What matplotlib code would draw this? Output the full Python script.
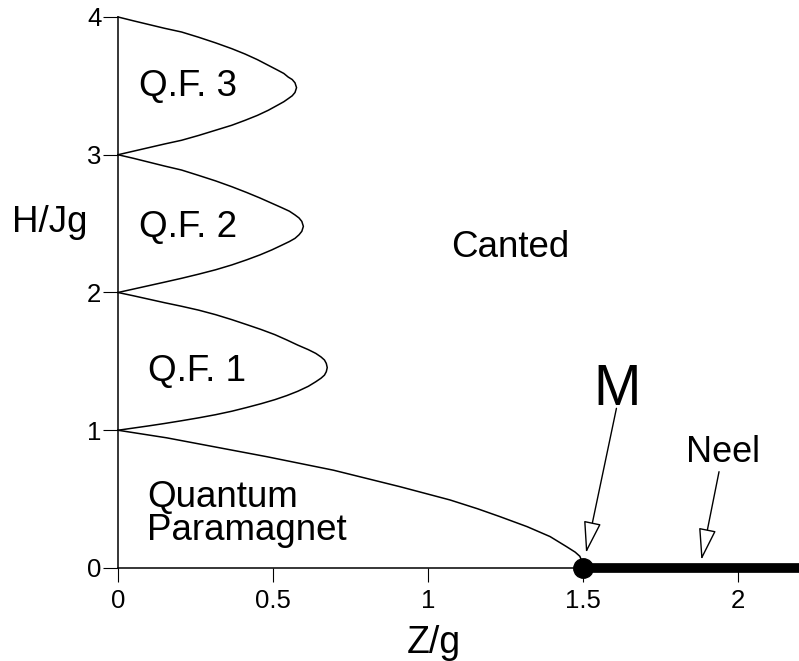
import matplotlib
matplotlib.use('Agg')
import matplotlib.pyplot as plt

plt.rcParams['font.family'] = ['Liberation Sans', 'DejaVu Sans']

# phase boundaries (Z/g, H/Jg)
qf1_x = [0, 0.05, 0.1, 0.15, 0.205, 0.26, 0.315, 0.367, 0.415, 0.462, 0.506, 0.545, 0.58,
         0.614, 0.638, 0.655, 0.666, 0.672, 0.675,
         0.672, 0.666, 0.655, 0.638, 0.614, 0.58, 0.545, 0.506, 0.462, 0.415, 0.367,
         0.315, 0.26, 0.205, 0.15, 0.1, 0.05, 0]
qf1_y = [2.0, 1.976, 1.951, 1.926, 1.9, 1.872, 1.839, 1.803, 1.767, 1.731, 1.694, 1.655, 1.618,
         1.585, 1.558, 1.532, 1.51, 1.485, 1.455,
         1.425, 1.4, 1.378, 1.352, 1.319, 1.283, 1.252, 1.222, 1.193, 1.165, 1.138,
         1.113, 1.09, 1.069, 1.049, 1.032, 1.016, 1.0]

qf2_x = [0, 0.05, 0.1, 0.15, 0.205, 0.26, 0.315, 0.367, 0.415, 0.458, 0.496, 0.528, 0.553,
         0.571, 0.584, 0.593, 0.598,
         0.593, 0.584, 0.571, 0.553, 0.528, 0.496, 0.458, 0.415, 0.367, 0.315, 0.26,
         0.205, 0.15, 0.1, 0.05, 0]
qf2_y = [3.0, 2.974, 2.946, 2.918, 2.889, 2.85, 2.81, 2.768, 2.726, 2.686, 2.648, 2.616, 2.59,
         2.563, 2.541, 2.516, 2.48,
         2.444, 2.419, 2.393, 2.37, 2.343, 2.309, 2.273, 2.237, 2.2, 2.165, 2.133,
         2.103, 2.075, 2.05, 2.025, 2.0]

qf3_x = [0, 0.05, 0.1, 0.15, 0.205, 0.26, 0.315, 0.367, 0.41, 0.45, 0.485, 0.515, 0.535,
         0.549, 0.562, 0.571, 0.576,
         0.571, 0.562, 0.549, 0.535, 0.515, 0.485, 0.45, 0.41, 0.367, 0.315, 0.26,
         0.205, 0.15, 0.1, 0.05, 0]
qf3_y = [4.0, 3.972, 3.945, 3.918, 3.891, 3.853, 3.812, 3.77, 3.731, 3.69, 3.649, 3.614, 3.59,
         3.564, 3.546, 3.522, 3.487,
         3.452, 3.428, 3.407, 3.385, 3.36, 3.323, 3.286, 3.25, 3.214, 3.178, 3.14,
         3.105, 3.078, 3.052, 3.026, 3.0]

qp_x = [0, 0.157, 0.48, 0.695, 0.91, 1.071, 1.16, 1.232, 1.32, 1.394, 1.447, 1.475, 1.49, 1.497, 1.5]
qp_y = [1, 0.945, 0.808, 0.71, 0.59, 0.494, 0.43, 0.373, 0.3, 0.228, 0.155, 0.115, 0.085, 0.045, 0]

neel_x = [1.5, 2.2]
neel_y = [0, 0]
m_point = (1.5, 0)

xticks = [0, 0.5, 1, 1.5, 2]
xtick_labels = ['0', '0.5', '1', '1.5', '2']
yticks = [0, 1, 2, 3, 4]
ytick_labels = ['0', '1', '2', '3', '4']

fig = plt.figure(figsize=(7.99, 6.61), dpi=100)
ax = fig.add_axes([0.1477, 0.1407, 0.8523, 0.8336])

for xs, ys in [(qf1_x, qf1_y), (qf2_x, qf2_y), (qf3_x, qf3_y), (qp_x, qp_y)]:
    ax.plot(xs, ys, color='black', lw=1.1, clip_on=False, solid_joinstyle='round')

ax.plot(neel_x, neel_y, color='black', lw=7, solid_capstyle='butt', clip_on=False, zorder=5)
ax.plot([m_point[0]], [m_point[1]], 'o', color='black', markersize=14, clip_on=False, zorder=6)

ax.set_xlim(0, 2.197)
ax.set_ylim(0, 4)
ax.spines['top'].set_visible(False)
ax.spines['right'].set_visible(False)
ax.spines['left'].set_linewidth(1.1)
ax.spines['bottom'].set_linewidth(1.1)
ax.set_xticks(xticks)
ax.set_xticklabels(xtick_labels)
ax.set_yticks(yticks)
ax.set_yticklabels(ytick_labels)
ax.tick_params(axis='x', direction='out', length=10, width=0.8, pad=5, labelsize=18.5)
ax.tick_params(axis='y', direction='out', length=11, width=0.8, pad=1, labelsize=18.5)

ax.text(1.02, -0.615, 'Z/g', fontsize=27, ha='center', va='baseline')
ax.text(-0.219, 2.441, 'H/Jg', fontsize=26.5, ha='center', va='baseline')

ax.text(0.068, 3.43, 'Q.F. 3', fontsize=26.5, va='baseline')
ax.text(0.068, 2.40, 'Q.F. 2', fontsize=26.5, va='baseline')
ax.text(0.097, 1.357, 'Q.F. 1', fontsize=26.5, va='baseline')
ax.text(1.076, 2.255, 'Canted', fontsize=26.5, va='baseline')
ax.text(0.093, 0.445, 'Quantum', fontsize=26.5, va='baseline')
ax.text(0.093, 0.203, 'Paramagnet', fontsize=26.5, va='baseline')
ax.text(1.534, 1.183, 'M', fontsize=41, va='baseline')
ax.text(1.834, 0.772, 'Neel', fontsize=26, va='baseline')

arrow = dict(arrowstyle='-|>,head_length=2.0,head_width=0.55', fc='white', ec='black',
             lw=1, mutation_scale=10, shrinkA=0, shrinkB=0)
ax.annotate('', xy=(1.51, 0.109), xytext=(1.608, 1.159), arrowprops=arrow, zorder=7)
ax.annotate('', xy=(1.882, 0.058), xytext=(1.939, 0.699), arrowprops=arrow, zorder=7)

fig.savefig('out.png', dpi=100)
